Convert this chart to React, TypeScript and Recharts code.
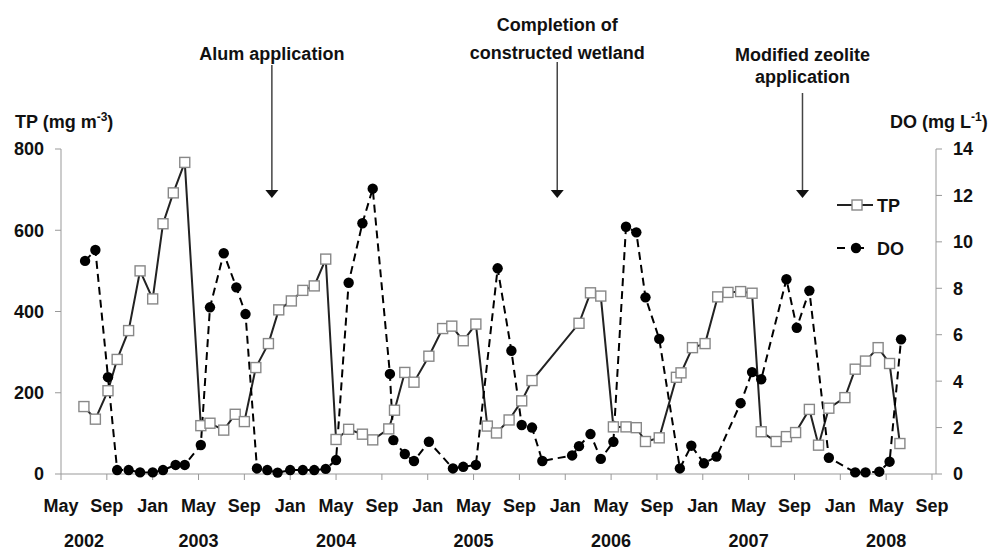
import React from "react";
import { LineChart, Line, XAxis, YAxis, Legend } from "recharts";

// months counted from May 2002 (0) to Sep 2008 (76)
const tpMonths = [
  2.0, 3.0, 4.1, 4.9, 5.9, 6.9, 8.0, 8.9, 9.8, 10.8, 12.2, 13.0, 14.2, 15.2, 16.0,
  17.0, 18.1, 19.0, 20.1, 21.1, 22.1, 23.1, 24.0, 25.1, 26.3, 27.2, 28.6, 29.1,
  30.0, 30.8, 32.1, 33.3, 34.1, 35.1, 36.2, 37.2, 38.0, 39.1, 40.2, 41.1, 45.2,
  46.2, 47.1, 48.2, 49.3, 50.2, 51.0, 52.2, 53.7, 54.1, 55.1, 56.2, 57.3, 58.2,
  59.3, 60.3, 61.1, 62.4, 63.3, 64.1, 65.3, 66.1, 67.0, 68.4, 69.3, 70.2, 71.3,
  72.3, 73.2,
];
const tpValues = [
  166, 135, 205, 282, 353, 500, 431, 616, 692, 767, 119, 125, 108, 147, 129,
  262, 321, 404, 426, 452, 463, 529, 85, 110, 98, 84, 111, 157,
  250, 226, 290, 358, 364, 328, 369, 118, 101, 133, 180, 230, 371,
  446, 438, 116, 116, 114, 80, 89, 238, 249, 311, 321, 436, 447,
  449, 445, 104, 80, 92, 102, 159, 71, 162, 188, 258, 278, 311,
  272, 75,
];

const doMonths = [
  2.1, 3.0, 4.1, 4.9, 5.9, 6.9, 8.0, 8.9, 10.0, 10.8, 12.2, 13.0, 14.2, 15.3, 16.1,
  17.1, 18.0, 18.9, 20.0, 21.1, 22.1, 23.1, 24.0, 25.1, 26.3, 27.2, 28.7, 29.0,
  30.0, 30.8, 32.1, 34.2, 35.1, 36.2, 38.1, 39.3, 40.2, 41.1, 42.0, 44.6, 45.2,
  46.2, 47.1, 48.2, 49.3, 50.2, 51.0, 52.2, 54.0, 55.0, 56.1, 57.2, 59.3, 60.3,
  61.1, 63.3, 64.2, 65.3, 67.0, 69.3, 70.2, 71.4, 72.3, 73.3,
];
const doValues = [
  9.18, 9.65, 4.17, 0.17, 0.17, 0.07, 0.07, 0.17, 0.39, 0.39, 1.25, 7.18, 9.51, 8.04, 6.89,
  0.24, 0.17, 0.06, 0.17, 0.17, 0.17, 0.22, 0.6, 8.24, 10.8, 12.29, 4.31, 1.46,
  0.86, 0.56, 1.39, 0.24, 0.31, 0.39, 8.86, 5.31, 2.11, 2.0, 0.56, 0.8, 1.2,
  1.72, 0.65, 1.39, 10.65, 10.41, 7.61, 5.82, 0.24, 1.22, 0.46, 0.75, 3.05, 4.39,
  4.08, 8.39, 6.3, 7.9, 0.7, 0.07, 0.07, 0.1, 0.53, 5.8,
];

const monthTicks = [0, 4, 8, 12, 16, 20, 24, 28, 32, 36, 40, 44, 48, 52, 56, 60, 64, 68, 72, 76];
const monthNames = ["May", "Sep", "Jan"];
const yearTicks = [2, 12, 24, 36, 48, 60, 72];
const yearLabels = ["2002", "2003", "2004", "2005", "2006", "2007", "2008"];
const tpTicks = [0, 200, 400, 600, 800];
const doTicks = [0, 2, 4, 6, 8, 10, 12, 14];

const events = [
  { month: 18.4, lines: ["Alum application"], baselines: [60], arrowTop: 65 },
  { month: 43.3, lines: ["Completion of", "constructed wetland"], baselines: [31, 59], arrowTop: 62 },
  { month: 64.7, lines: ["Modified zeolite", "application"], baselines: [61, 83], arrowTop: 93 },
];

const W = 997;
const H = 551;
const PLOT_LEFT = 61;
const PLOT_RIGHT = 936;
const PLOT_TOP = 149;
const X_MAX = 76.35;
const FONT = "'Liberation Sans', Arial, sans-serif";

const tpData = tpMonths.map((m, i) => ({ m, v: tpValues[i] }));
const doData = doMonths.map((m, i) => ({ m, v: doValues[i] }));

const monthToX = (m: number) => PLOT_LEFT + (m / X_MAX) * (PLOT_RIGHT - PLOT_LEFT);

const tickFont = { fontSize: 18, fontWeight: 700, fill: "#111" };
const axisGrey = "#999";

function SquareDot(props: any) {
  const { cx, cy } = props;
  if (cx == null || cy == null) return null;
  return <rect x={cx - 5} y={cy - 5} width={10} height={10} fill="#fff" stroke="#888" strokeWidth={1.4} />;
}

function RoundDot(props: any) {
  const { cx, cy } = props;
  if (cx == null || cy == null) return null;
  return <circle cx={cx} cy={cy} r={5.2} fill="#000" />;
}

function LegendBox() {
  return (
    <svg width={100} height={70} style={{ fontFamily: FONT, overflow: "visible", display: "block" }}>
      <line x1={7} x2={43} y1={15} y2={15} stroke="#222" strokeWidth={2} />
      <rect x={22} y={10} width={10} height={10} fill="#fff" stroke="#888" strokeWidth={1.4} />
      <text x={47} y={21.5} fontSize={18} fontWeight={700} fill="#111">TP</text>
      <line x1={7} x2={43} y1={58} y2={58} stroke="#000" strokeWidth={2} strokeDasharray="8 11" />
      <circle cx={26} cy={58} r={5.2} fill="#000" />
      <text x={47} y={64.5} fontSize={18} fontWeight={700} fill="#111">DO</text>
    </svg>
  );
}

export default function App() {
  return (
    <div style={{ position: "absolute", left: 0, top: 0, width: W, height: H, background: "#fff" }}>
      <LineChart
        width={W}
        height={H}
        margin={{ top: PLOT_TOP, right: 0, bottom: 0, left: 0 }}
        style={{ fontFamily: FONT }}
      >
        <XAxis
          xAxisId="m"
          dataKey="m"
          type="number"
          domain={[0, X_MAX]}
          allowDataOverflow
          ticks={monthTicks}
          interval={0}
          height={40}
          tickSize={6}
          tickMargin={19}
          stroke={axisGrey}
          tick={tickFont}
          tickFormatter={(v: number) => monthNames[(v / 4) % 3]}
        />
        <XAxis
          xAxisId="year"
          dataKey="m"
          type="number"
          domain={[0, X_MAX]}
          allowDataOverflow
          ticks={yearTicks}
          interval={0}
          height={37}
          axisLine={false}
          tickLine={false}
          tickSize={0}
          tickMargin={20}
          tick={tickFont}
          tickFormatter={(v: number) => yearLabels[yearTicks.indexOf(v)]}
        />
        <YAxis
          yAxisId="tp"
          orientation="left"
          domain={[0, 800]}
          ticks={tpTicks}
          interval={0}
          width={61}
          tickSize={6}
          tickMargin={11}
          stroke={axisGrey}
          tick={tickFont}
        />
        <YAxis
          yAxisId="do"
          orientation="right"
          domain={[0, 14]}
          ticks={doTicks}
          interval={0}
          width={61}
          tickSize={6}
          tickMargin={11}
          stroke={axisGrey}
          tick={{ ...tickFont, textAnchor: "start" }}
        />
        <Line
          xAxisId="m"
          yAxisId="tp"
          data={tpData}
          dataKey="v"
          name="TP"
          type="linear"
          stroke="#222"
          strokeWidth={2}
          dot={<SquareDot />}
          activeDot={false}
          isAnimationActive={false}
        />
        <Line
          xAxisId="m"
          yAxisId="do"
          data={doData}
          dataKey="v"
          name="DO"
          type="linear"
          stroke="#000"
          strokeWidth={2}
          strokeDasharray="8 5"
          dot={<RoundDot />}
          activeDot={false}
          isAnimationActive={false}
        />
        {/* vertical + centered keeps the legend from reserving plot space */}
        <Legend
          layout="vertical"
          align="center"
          verticalAlign="middle"
          content={() => <LegendBox />}
          wrapperStyle={{ position: "absolute", left: 830, top: 190, width: 100, height: 70 }}
        />
      </LineChart>

      {/* axis titles and event arrows */}
      <svg
        width={W}
        height={H}
        style={{ position: "absolute", left: 0, top: 0, pointerEvents: "none", fontFamily: FONT }}
      >
        <text x={15} y={128} fontSize={18} fontWeight={700} fill="#111">
          TP (mg m
          <tspan fontSize={12} dy={-7}>-3</tspan>
          <tspan dy={7}>)</tspan>
        </text>
        <text x={890} y={128} fontSize={18} fontWeight={700} fill="#111">
          DO (mg L
          <tspan fontSize={12} dy={-7}>-1</tspan>
          <tspan dy={7}>)</tspan>
        </text>
        {events.map((e) => {
          const x = monthToX(e.month);
          return (
            <g key={e.month}>
              {e.lines.map((t, i) => (
                <text
                  key={t}
                  x={x}
                  y={e.baselines[i]}
                  textAnchor="middle"
                  fontSize={18}
                  fontWeight={700}
                  fill="#111"
                >
                  {t}
                </text>
              ))}
              <line x1={x} x2={x} y1={e.arrowTop} y2={191} stroke="#444" strokeWidth={1.5} />
              <polygon points={`${x - 6.5},190 ${x + 6.5},190 ${x},198`} fill="#111" />
            </g>
          );
        })}
      </svg>
    </div>
  );
}
